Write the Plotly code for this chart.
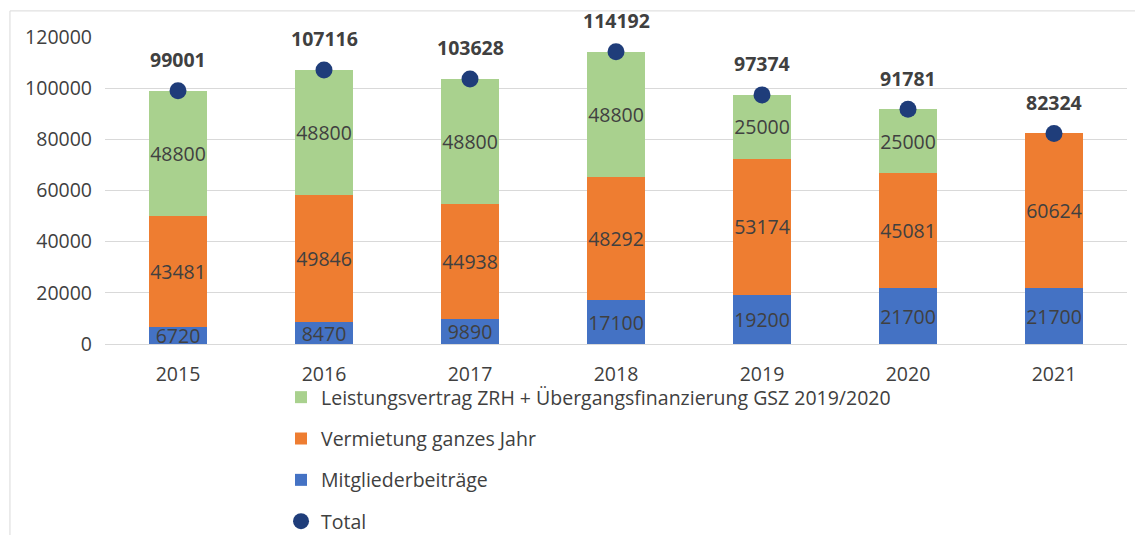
import plotly.graph_objects as go

years = ["2015", "2016", "2017", "2018", "2019", "2020", "2021"]
mitglieder = [6720, 8470, 9890, 17100, 19200, 21700, 21700]
vermietung = [43481, 49846, 44938, 48292, 53174, 45081, 60624]
leistung = [48800, 48800, 48800, 48800, 25000, 25000, 0]
total = [99001, 107116, 103628, 114192, 97374, 91781, 82324]
y_ticks = [0, 20000, 40000, 60000, 80000, 100000, 120000]

FONT = "Open Sans"
TXT = "#404040"
FS = 19.5

fig = go.Figure()

series = [
    ("Mitgliederbeiträge", mitglieder, "#4472C4", 3),
    ("Vermietung ganzes Jahr", vermietung, "#EE7D31", 2),
    ("Leistungsvertrag ZRH + Übergangsfinanzierung GSZ 2019/2020", leistung, "#A9D18E", 1),
]
for name, vals, col, rank in series:
    fig.add_trace(go.Bar(
        x=years, y=vals, name=name, marker=dict(color=col, line=dict(width=0)),
        text=[str(v) for v in vals], textposition="inside", insidetextanchor="middle",
        textangle=0, textfont=dict(family=FONT, size=FS, color=TXT),
        constraintext="none",
        legendrank=rank, legendgroup=name,
    ))

fig.add_trace(go.Scatter(
    x=years, y=total, name="Total", mode="markers",
    marker=dict(color="#1F3D7A", size=17),
    legendrank=4, legendgroup="Total",
))

for i, t in enumerate(total):
    fig.add_annotation(x=i, y=t, text=f"<b>{t}</b>", showarrow=False,
                       yshift=31, font=dict(family=FONT, size=FS, color=TXT))

fig.add_shape(type="rect", xref="paper", yref="paper", x0=-0.093, x1=1.05,
              y0=-0.8, y1=1.085, line=dict(color="#D9D9D9", width=1), layer="below")

fig.update_layout(
    width=1135, height=535,
    margin=dict(l=105, r=8, t=37, b=191, autoexpand=False),
    barmode="stack", bargap=0.6,
    plot_bgcolor="white", paper_bgcolor="white",
    font=dict(family=FONT, size=FS, color=TXT),
    uniformtext=dict(mode=False),
    legend=dict(orientation="v", xref="container", yref="container",
                x=0.2476, y=0.2935, xanchor="left", yanchor="top",
                font=dict(family=FONT, size=FS, color=TXT), tracegroupgap=13,
                itemwidth=30, bgcolor="rgba(0,0,0,0)"),
    xaxis=dict(type="category", range=[-0.5, 6.5], showgrid=False, showline=False,
               ticks="", tickfont=dict(size=FS, color=TXT), ticklabelstandoff=16,
               automargin=False),
    yaxis=dict(range=[0, 120000], tickvals=y_ticks, ticktext=[str(v) for v in y_ticks],
               showgrid=True, gridcolor="#D9D9D9", gridwidth=1, zeroline=True,
               zerolinecolor="#D9D9D9", zerolinewidth=1, ticks="",
               tickfont=dict(size=FS, color=TXT), ticklabelstandoff=12,
               automargin=False),
)

fig.write_html("out.html")
